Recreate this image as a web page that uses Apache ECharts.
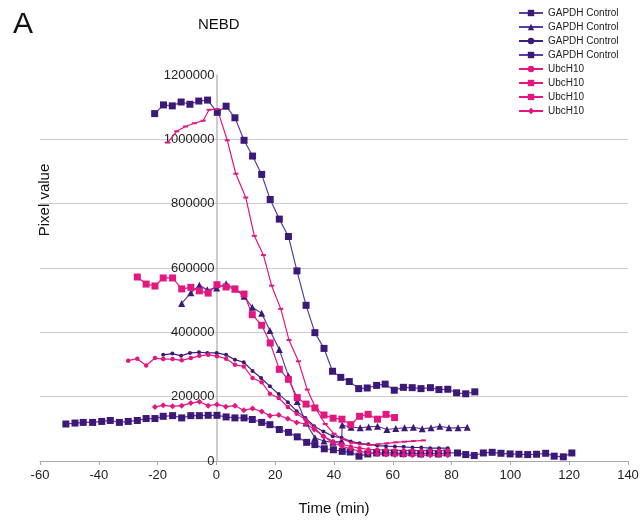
<!DOCTYPE html>
<html>
<head>
<meta charset="utf-8">
<script src="https://cdn.jsdelivr.net/npm/echarts@6/dist/echarts.min.js"></script>
<style>
html,body{margin:0;padding:0;background:#fff;}
#chart{width:643px;height:521px;}
</style>
</head>
<body>
<div id="chart"></div>
<script>
// ---- data (time in minutes, pixel value) ----
var xTicks = [-60, -40, -20, 0, 20, 40, 60, 80, 100, 120, 140];
var yTicks = [0, 200000, 400000, 600000, 800000, 1000000, 1200000];
var seriesNames = ['GAPDH Control', 'GAPDH Control', 'GAPDH Control', 'GAPDH Control', 'UbcH10', 'UbcH10', 'UbcH10', 'UbcH10'];

// GAPDH Control - squares (high curve)
var gSq1T = [-21,-18,-15,-12,-9,-6,-3,0.3,3.3,6.3,9.4,12.3,15.4,18.3,21.4,24.5,27.4,30.5,33.5,36.6,39.5,42.3,45.2,48.4,51.3,54.5,57.4,60.5,63.6,66.6,69.6,72.8,75.7,78.7,81.7,84.8,87.9];
var gSq1V = [1080000,1107000,1104000,1116000,1109000,1119000,1122000,1084000,1103000,1067000,997000,948000,891000,813000,752000,698000,591000,484000,399000,350000,279000,260000,247000,225000,227000,235000,239000,220000,229000,228000,225000,228000,222000,223000,212000,209000,215000];
// GAPDH Control - triangles
var gTriT = [-11.8,-8.7,-5.8,-3.1,0.1,3.3,6.3,9.4,12.2,15.4,18.2,21.4,24.5,27.5,30.5,33.5,36.6,39.6,42.6,42.8,45.8,48.9,51.8,54.8,58,61,64,67,70,73,76,79.1,82.2,85.3];
var gTriV = [490000,523000,546000,532000,538000,551000,535000,512000,478000,459000,406000,347000,264000,185000,118000,72000,62000,58000,62000,112000,105000,103000,106000,108000,98000,101000,103000,105000,100000,103000,108000,103000,103000,105000];
// GAPDH Control - small dots
var gDotT = [-18.1,-15,-12,-9,-5.9,-3.1,0.1,3.3,6.3,9.3,12.3,15.2,18.2,21.2,24.3,27.3,30.3,33.3,36.4,39.6,42.6,45.7,48.7,51.7,54.7,57.7,60.7,63.7,66.7,69.7,72.7,75.7,78.7];
var gDotV = [330000,334000,327000,336000,338000,336000,336000,330000,315000,307000,280000,258000,232000,208000,183000,155000,134000,108000,92000,77000,72000,61000,55000,52000,48000,46000,45000,44000,42000,42000,40000,40000,40000];
// GAPDH Control - squares (low curve)
var gSq2T = [-51.2,-48.1,-45.3,-42.1,-39,-36.1,-33,-30,-26.9,-23.9,-20.9,-18.1,-14.9,-11.8,-8.7,-5.8,-2.8,0.2,3.3,6.3,9.4,12.2,15.4,18.2,21.4,24.5,27.5,30.7,33.5,36.7,39.8,42.8,45.5,48.5,51.5,54.5,57.5,60.5,63.5,66.5,69.5,72.5,75.5,78.5,82,84.8,87.7,90.8,93.8,96.8,99.9,102.9,105.9,108.9,112,114.9,118,120.9];
var gSq2V = [115000,118000,120000,120000,123000,126000,120000,123000,126000,132000,132000,139000,141000,134000,141000,141000,142000,142000,137000,134000,134000,129000,120000,113000,98000,89000,75000,58000,51000,38000,35000,30000,28000,15000,22000,25000,25000,25000,23000,25000,22000,25000,22000,25000,25000,20000,17000,25000,27000,24000,22000,21000,20000,21000,24000,15000,13000,25000];
// UbcH10 - dots
var uDotT = [-30,-26.9,-23.9,-20.9,-18.1,-14.9,-11.8,-8.7,-5.8,-2.8,0.2,3.3,6.3,9.3,12.3,15.4,18.2,21.2,24.3,27.3,30.3,33.3,36.4,39.7,42.7,45.7,48.7,51.7,54.7,57.7,60.7,63.7,66.7,69.7,72.7,75.7,78.7];
var uDotV = [312000,318000,297000,320000,317000,317000,313000,320000,327000,330000,326000,318000,299000,294000,258000,245000,209000,196000,168000,147000,129000,103000,77000,61000,52000,45000,40000,36000,35000,34000,33000,33000,32000,32000,32000,32000,33000];
// UbcH10 - squares
var uSqT = [-26.9,-23.9,-20.9,-18.1,-14.9,-11.8,-8.7,-5.8,-2.8,0.2,3.3,6.3,9.4,12.2,15.4,18.3,21.4,24.5,27.5,30.5,33.5,36.6,39.7,42.7,45.7,48.7,51.6,54.8,57.7,60.6];
var uSqV = [572000,550000,544000,569000,569000,535000,540000,529000,522000,548000,541000,535000,519000,455000,422000,367000,285000,254000,197000,177000,165000,143000,133000,130000,113000,139000,145000,130000,145000,135000];
// UbcH10 - dashes
var uDashT = [-16.6,-13.5,-10.5,-7.5,-4.5,-2.5,0.3,3.7,6.6,10,12.9,16,18.8,21.9,24.7,27.9,30.9,34,37,40,43,46,49,52,55,58,61,64,67,70.4];
var uDashV = [990000,1025000,1040000,1050000,1058000,1092000,1094000,997000,893000,819000,700000,640000,545000,473000,376000,310000,222000,160000,115000,85000,68000,57000,52000,50000,52000,55000,58000,60000,62000,64000];
// UbcH10 - diamonds
var uDiaT = [-20.9,-18.1,-14.9,-11.8,-8.7,-5.8,-2.8,0.2,3.2,6.3,9.3,12.3,15.4,18.2,21.2,24.3,27.3,30.5,33.3,36.4,39.7,42.7,45.7,48.7,51.7,54.7,57.7,60.7,63.7,66.7,69.7,72.7,75.7,78.7];
var uDiaV = [168000,173000,170000,172000,180000,184000,172000,176000,169000,172000,158000,163000,154000,141000,143000,131000,120000,115000,98000,77000,56000,46000,38000,30000,25000,22000,20000,19000,19000,18000,18000,18000,18000,18000];

function pairs(t, v) { return t.map(function (x, i) { return [x, v[i]]; }); }

var FONT = '"Liberation Sans", Arial, Helvetica, sans-serif';
var PURPLE = '#3c1877';
var PURPLE_LINE = '#5a3d9f';
var PINK = '#e3177f';

var GRID_LEFT = 40, GRID_RIGHT = 15, W = 643;

var defs = [
  {t: gSq1T, v: gSq1V, sym: 'rect', size: 7, mc: PURPLE, lc: PURPLE_LINE},
  {t: gTriT, v: gTriV, sym: 'triangle', size: 7, mc: PURPLE, lc: PURPLE_LINE},
  {t: gDotT, v: gDotV, sym: 'circle', size: 4, mc: PURPLE, lc: '#3a2283'},
  {t: gSq2T, v: gSq2V, sym: 'rect', size: 7, mc: PURPLE, lc: PURPLE_LINE},
  {t: uDotT, v: uDotV, sym: 'circle', size: 4.5, mc: PINK, lc: PINK},
  {t: uSqT, v: uSqV, sym: 'rect', size: 7, mc: PINK, lc: PINK},
  {t: uDashT, v: uDashV, sym: 'rect', size: [5, 2], mc: PINK, lc: PINK},
  {t: uDiaT, v: uDiaV, sym: 'diamond', size: 6, mc: PINK, lc: PINK}
];

var series = defs.map(function (d, i) {
  return {
    name: seriesNames[i] + ' #' + (i + 1),
    type: 'line',
    data: pairs(d.t, d.v),
    symbol: d.sym,
    symbolSize: d.size,
    showSymbol: true,
    showAllSymbol: true,
    lineStyle: {color: d.lc, width: 1.2},
    itemStyle: {color: d.mc, borderWidth: 0},
    emphasis: {disabled: true},
    animation: false
  };
});

// y axis sits at time 0: shift it from the grid's left edge by the axis scale
var xMin = xTicks[0], xMax = xTicks[xTicks.length - 1];
var plotW = W - GRID_LEFT - GRID_RIGHT;
var yAxisShift = (0 - xMin) / (xMax - xMin) * plotW;

var chart = echarts.init(document.getElementById('chart'), null, {renderer: 'canvas'});
chart.setOption({
  backgroundColor: '#fff',
  animation: false,
  textStyle: {fontFamily: FONT},
  title: [
    {text: 'A', left: 8, top: 5, textStyle: {fontSize: 30, fontWeight: 'normal', color: '#111', fontFamily: FONT}},
    {text: 'NEBD', left: 193, top: 12, textStyle: {fontSize: 15, fontWeight: 'normal', color: '#111', fontFamily: FONT}}
  ],
  legend: {
    orient: 'vertical',
    left: 513,
    top: 3,
    itemWidth: 24,
    itemHeight: 8,
    itemGap: 4,
    textStyle: {fontSize: 10, color: '#222', fontFamily: FONT, lineHeight: 10},
    formatter: function (name) { return name.replace(/ #\d+$/, ''); },
    data: series.map(function (s) { return s.name; })
  },
  grid: {left: GRID_LEFT, right: GRID_RIGHT, top: 75, bottom: 60, containLabel: false, outerBoundsMode: 'none'},
  xAxis: {
    type: 'value',
    min: xMin,
    max: xMax,
    interval: xTicks[1] - xTicks[0],
    name: 'Time (min)',
    nameLocation: 'middle',
    nameGap: 40,
    nameTextStyle: {fontSize: 15, color: '#111', fontFamily: FONT},
    axisLine: {onZero: false, lineStyle: {color: '#aaaaaa', width: 1}},
    axisTick: {show: true, length: 4, lineStyle: {color: '#aaaaaa'}},
    axisLabel: {fontSize: 13, color: '#222', margin: 8, fontFamily: FONT},
    splitLine: {show: false}
  },
  yAxis: {
    type: 'value',
    min: yTicks[0],
    max: yTicks[yTicks.length - 1],
    interval: yTicks[1] - yTicks[0],
    offset: -yAxisShift,
    axisLine: {show: true, onZero: false, lineStyle: {color: '#bbbbbb', width: 1.5}},
    axisTick: {show: false},
    axisLabel: {fontSize: 13, color: '#222', margin: 2, fontFamily: FONT,
                formatter: function (v) { return String(v); }},
    splitLine: {show: true, showMaxLine: false, lineStyle: {color: '#cccccc', width: 1}}
  },
  graphic: [
    {type: 'text', x: 45, y: 200, rotation: Math.PI / 2,
     style: {text: 'Pixel value', font: '15px ' + FONT, fill: '#111', textAlign: 'center', textVerticalAlign: 'middle'}}
  ],
  series: series
});
</script>
</body>
</html>
